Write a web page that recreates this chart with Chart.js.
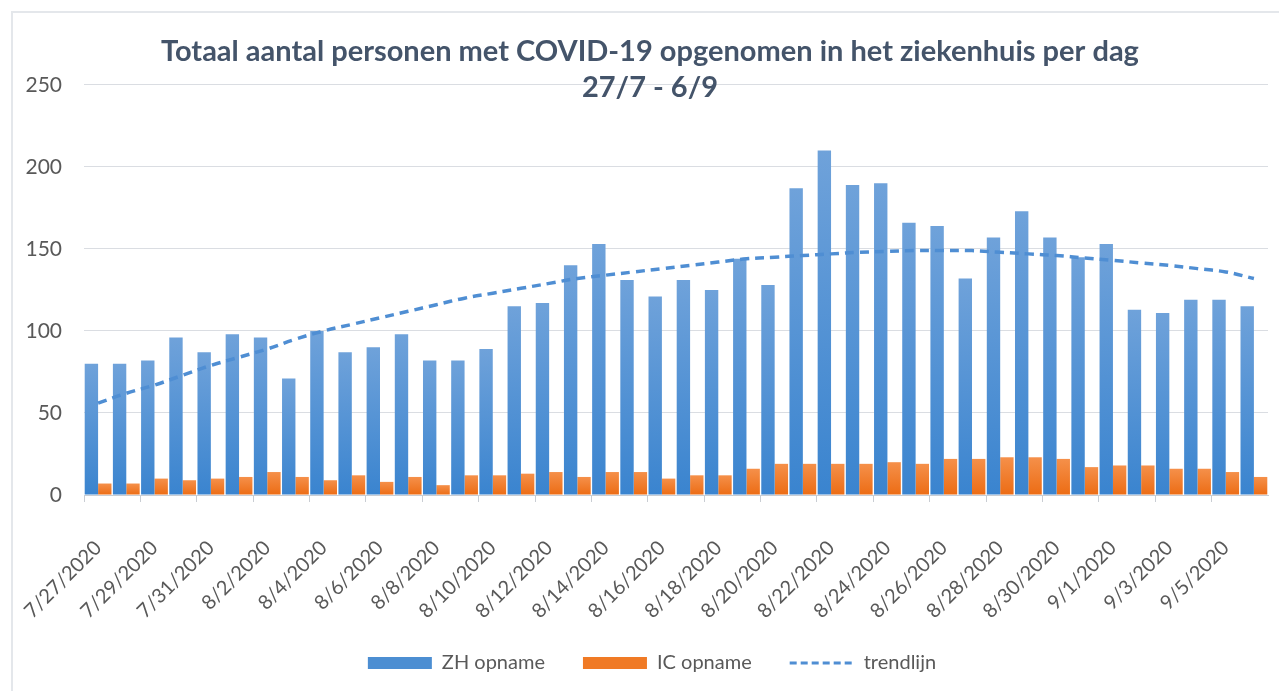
<!DOCTYPE html>
<html>
<head>
<meta charset="utf-8">
<script src="https://cdn.jsdelivr.net/npm/chart.js@4.4.0/dist/chart.umd.min.js"></script>
<style>
  html, body { margin: 0; padding: 0; background: #fff; overflow: hidden; }
  #kader { position: absolute; left: 11px; top: 11px; width: 1300px; height: 700px; border-left: 2px solid #E4E7EB; border-top: 2px solid #E4E7EB; }
  #houder { position: absolute; left: 0; top: 0; width: 1279px; height: 691px; }
</style>
</head>
<body>
<div id="kader"></div>
<div id="houder"><canvas id="grafiek"></canvas></div>
<script>
const datums = [
  '7/27/2020', '7/28/2020', '7/29/2020', '7/30/2020', '7/31/2020', '8/1/2020', '8/2/2020',
  '8/3/2020', '8/4/2020', '8/5/2020', '8/6/2020', '8/7/2020', '8/8/2020', '8/9/2020',
  '8/10/2020', '8/11/2020', '8/12/2020', '8/13/2020', '8/14/2020', '8/15/2020', '8/16/2020',
  '8/17/2020', '8/18/2020', '8/19/2020', '8/20/2020', '8/21/2020', '8/22/2020', '8/23/2020',
  '8/24/2020', '8/25/2020', '8/26/2020', '8/27/2020', '8/28/2020', '8/29/2020', '8/30/2020',
  '8/31/2020', '9/1/2020', '9/2/2020', '9/3/2020', '9/4/2020', '9/5/2020', '9/6/2020'
]

const zh_opname = [
  80, 80, 82, 96, 87, 98, 96, 71, 100, 87, 90, 98, 82, 82,
  89, 115, 117, 140, 153, 131, 121, 131, 125, 144, 128, 187, 210, 189,
  190, 166, 164, 132, 157, 173, 157, 145, 153, 113, 111, 119, 119, 115
]

const ic_opname = [
  7, 7, 10, 9, 10, 11, 14, 11, 9, 12, 8, 11, 6, 12,
  12, 13, 14, 11, 14, 14, 10, 12, 12, 16, 19, 19, 19, 19,
  20, 19, 22, 22, 23, 23, 22, 17, 18, 18, 16, 16, 14, 11
]

const trendlijn = [
  56, 62, 67, 73, 79, 84, 89, 95, 100, 104, 108, 112, 116, 120,
  123, 126, 129, 132, 134, 136, 138, 140, 142, 144, 145, 146, 147, 148,
  148.5, 149, 149, 149, 148, 147, 146, 144.5, 143, 141.5, 140, 138, 136, 132
]

const y_ticks = [0, 50, 100, 150, 200, 250]

const titel = ['Totaal aantal personen met COVID-19 opgenomen in het ziekenhuis per dag', '27/7 - 6/9']
const reeks_namen = ['ZH opname', 'IC opname', 'trendlijn']

// verloop per staaf, van boven (licht) naar onder (donker)
const verloop = (ctx, boven, onder) => {
  const chart = ctx.chart
  const area = chart.chartArea
  if (!area || ctx.raw === undefined) return onder
  const y = chart.scales.y.getPixelForValue(ctx.raw)
  const g = chart.ctx.createLinearGradient(0, y, 0, area.bottom)
  g.addColorStop(0, boven)
  g.addColorStop(1, onder)
  return g
}

// titel en legenda staan in het origineel iets rechts van het midden;
// de x-as labels mogen tot onderaan doorlopen (anders worden ze afgeknipt)
const blokken_verschuiven = {
  id: 'blokken_verschuiven',
  afterLayout: chart => {
    chart.titleBlock.left += 32
    chart.legend.left += 36
    chart.scales.x.bottom = chart.height
  }
}

const tekst_kleur = '#595959'

new Chart(document.getElementById('grafiek'), {
  type: 'bar',
  data: {
    labels: datums,
    datasets: [
      {
        label: reeks_namen[0],
        data: zh_opname,
        backgroundColor: ctx => verloop(ctx, '#6FA2DA', '#3A84CF'),
        borderWidth: 0,
        barPercentage: 1,
        categoryPercentage: 0.95,
        order: 2
      },
      {
        label: reeks_namen[1],
        data: ic_opname,
        backgroundColor: ctx => verloop(ctx, '#F5904A', '#EC6C14'),
        borderWidth: 0,
        barPercentage: 1,
        categoryPercentage: 0.95,
        order: 3
      },
      {
        type: 'line',
        label: reeks_namen[2],
        data: trendlijn,
        borderColor: '#4F8ED3',
        borderWidth: 3.5,
        borderDash: [9, 6],
        pointRadius: 0,
        tension: 0.4,
        fill: false,
        order: 1
      }
    ]
  },
  options: {
    responsive: true,
    maintainAspectRatio: false,
    animation: false,
    layout: { padding: { left: 0, right: 11, top: 0, bottom: 8 } },
    scales: {
      x: {
        grid: {
          drawOnChartArea: false,
          tickLength: 7,
          tickColor: ctx => ctx.index % 2 === 0 ? '#C9CDD3' : 'rgba(0,0,0,0)'
        },
        border: { color: '#C9CDD3', width: 1 },
        ticks: {
          autoSkip: false,
          maxRotation: 45,
          minRotation: 45,
          padding: 34,
          color: tekst_kleur,
          font: { family: 'Lato', size: 20 },
          callback: (v, i) => i % 2 === 0 ? datums[i] : ''
        },
        afterFit: scale => {
          scale.height = 120
          scale.paddingLeft = 0
          scale.paddingRight = 0
        }
      },
      y: {
        min: 0,
        max: 250,
        afterBuildTicks: scale => { scale.ticks = y_ticks.map(v => ({ value: v })) },
        grid: { color: '#DADDE2', drawTicks: false },
        border: { display: false },
        ticks: {
          padding: 22,
          color: tekst_kleur,
          font: { family: 'Lato', size: 21 }
        },
        afterFit: scale => { scale.width = 84 }
      }
    },
    plugins: {
      title: {
        display: true,
        text: titel,
        color: '#44546A',
        font: { family: 'Lato', size: 29, weight: 'bold', lineHeight: 1.24 },
        padding: { top: 34, bottom: -21 }
      },
      legend: {
        position: 'bottom',
        labels: {
          usePointStyle: true,
          pointStyleWidth: 64,
          boxHeight: 12,
          padding: 38,
          color: tekst_kleur,
          font: { family: 'Lato', size: 20 },
          generateLabels: () => [
            { text: reeks_namen[0], fillStyle: '#4C8ED2', strokeStyle: '#4C8ED2', lineWidth: 0, pointStyle: 'rect', fontColor: tekst_kleur, hidden: false, datasetIndex: 0 },
            { text: reeks_namen[1], fillStyle: '#F07A25', strokeStyle: '#F07A25', lineWidth: 0, pointStyle: 'rect', fontColor: tekst_kleur, hidden: false, datasetIndex: 1 },
            { text: reeks_namen[2], fillStyle: 'rgba(0,0,0,0)', strokeStyle: '#4F8ED3', lineWidth: 3, lineDash: [7, 4], pointStyle: 'line', fontColor: tekst_kleur, hidden: false, datasetIndex: 2 }
          ]
        }
      },
      tooltip: { enabled: false }
    }
  },
  plugins: [blokken_verschuiven]
})
</script>
</body>
</html>
